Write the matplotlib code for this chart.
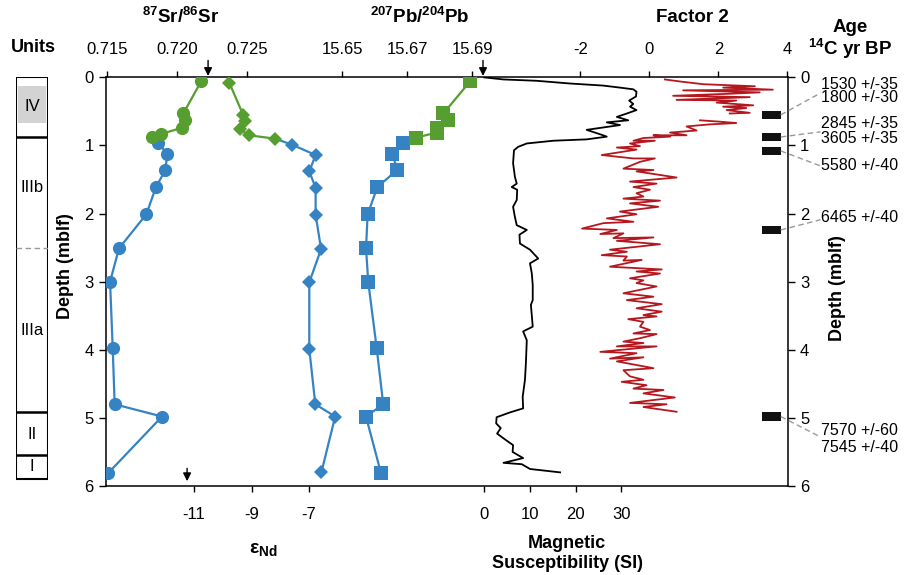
import numpy as np
import matplotlib
matplotlib.use('Agg')
import matplotlib.pyplot as plt
from matplotlib.patches import Rectangle

plt.rcParams['font.family'] = ['Liberation Sans', 'DejaVu Sans']
plt.rcParams['mathtext.default'] = 'regular'

# ---- data ----
# 87Sr/86Sr
sr_depth_g = [0.06, 0.53, 0.62, 0.74, 0.83, 0.88]
sr_g = [0.72174, 0.72047, 0.72059, 0.72038, 0.71888, 0.71821]
sr_depth_b = [0.96, 1.12, 1.36, 1.61, 2.01, 2.51, 3.00, 3.98, 4.80, 4.98, 5.81]
sr_b = [0.71864, 0.71933, 0.71919, 0.71852, 0.71783, 0.71588, 0.71524, 0.71543, 0.71557, 0.71895, 0.71511]

# eNd
nd_depth_g = [0.08, 0.55, 0.64, 0.76, 0.85, 0.90]
nd_g = [-9.77, -9.29, -9.23, -9.40, -9.09, -8.17]
nd_depth_b = [0.99, 1.14, 1.38, 1.62, 2.02, 2.52, 3.01, 3.99, 4.80, 4.98, 5.80]
nd_b = [-7.58, -6.77, -6.99, -6.77, -6.77, -6.58, -6.99, -6.99, -6.78, -6.09, -6.57]

# 207Pb/204Pb
pb_depth_g = [0.06, 0.53, 0.62, 0.74, 0.81, 0.885]
pb_g = [15.6893, 15.6811, 15.6824, 15.6790, 15.6790, 15.6727]
pb_depth_b = [0.97, 1.12, 1.36, 1.61, 2.01, 2.51, 3.01, 3.98, 4.80, 4.98, 5.81]
pb_b = [15.6688, 15.6654, 15.6669, 15.6608, 15.6578, 15.6573, 15.6580, 15.6606, 15.6626, 15.6573, 15.6619]

# magnetic susceptibility (SI)
ms_depth = [0.0, 0.03, 0.05, 0.09, 0.12, 0.15, 0.175, 0.21, 0.28, 0.34, 0.39, 0.43, 0.48, 0.53,
            0.58, 0.63, 0.66, 0.70, 0.77, 0.85, 0.87, 0.91, 0.93, 0.97, 1.02, 1.07, 1.26, 1.46,
            1.56, 1.61, 1.65, 1.80, 1.90, 2.05, 2.17, 2.24, 2.31, 2.44, 2.53, 2.66, 2.73, 2.88,
            3.05, 3.27, 3.34, 3.66, 3.73, 3.86, 4.20, 4.44, 4.69, 4.86, 4.92, 4.99, 5.08, 5.15,
            5.23, 5.30, 5.40, 5.50, 5.59, 5.66, 5.68, 5.75, 5.80]
ms_val = [0.0, 4.2, 11.5, 18.8, 26.0, 29.7, 32.6, 33.3, 33.2, 31.7, 32.6, 31.9, 33.3, 31.2,
          29.0, 31.5, 26.8, 29.7, 22.4, 26.0, 26.8, 22.4, 15.1, 9.3, 7.4, 6.5, 6.3, 6.7,
          7.1, 6.0, 7.2, 7.1, 6.3, 6.7, 7.1, 9.3, 7.7, 7.8, 10.0, 11.8, 10.0, 10.4,
          10.6, 10.6, 10.2, 10.6, 8.5, 9.3, 9.1, 8.9, 8.4, 8.5, 5.6, 2.7, 2.6, 3.6,
          2.8, 4.2, 6.3, 6.2, 8.5, 4.2, 8.2, 10.0, 16.6]

# Factor 2
f2_depth = [0.03, 0.06, 0.10, 0.11, 0.13, 0.15, 0.18, 0.19, 0.22, 0.24, 0.27, 0.29, 0.33, 0.34,
            0.37, 0.41, 0.43, 0.45, 0.48, 0.52, 0.53, np.nan,
            0.63, 0.65, 0.67, 0.69, 0.72, 0.78, 0.81, 0.85, 0.85, 0.87, 0.89, 0.93, 0.93, 0.97,
            1.01, 1.03, 1.06, 1.14, 1.19, 1.19, 1.24, 1.34, 1.36, 1.38, 1.47, 1.53, 1.56, 1.61,
            1.65, 1.70, 1.75, 1.78, 1.81, 1.85, 1.90, 1.97, 2.01, 2.07, 2.12, 2.14, 2.22, 2.24,
            2.30, 2.29, 2.36, 2.35, 2.40, 2.45, 2.53, 2.56, 2.61, 2.63, 2.69, 2.68, 2.78, 2.82,
            2.85, 2.88, 2.95, 2.98, 3.02, 3.07, 3.17, 3.22, 3.27, 3.33, 3.39, 3.44, 3.49, 3.51,
            3.55, 3.59, 3.66, 3.71, 3.76, 3.77, 3.83, 3.88, 3.90, 3.95, 3.95, 4.03, 4.05, 4.13,
            4.11, 4.17, 4.27, 4.30, 4.39, 4.44, 4.47, 4.52, 4.57, 4.59, 4.64, 4.70, 4.78, 4.80,
            4.84, 4.91]
f2_val = [0.45, 0.89, 1.56, 2.04, 3.06, 2.14, 3.58, 0.98, 3.20, 2.33, 0.69, 2.91, 0.79, 2.52,
          1.95, 3.01, 2.14, 2.81, 2.24, 2.91, 2.33, np.nan,
          1.47, 2.04, 2.52, 1.75, 1.08, 1.37, 0.60, 1.08, 0.12, 0.60, -0.17, -0.46, 0.16, -0.56,
          -0.27, -0.94, -0.37, -1.38, -0.46, 0.16, -0.27, -0.75, 0.12, -0.37, 0.79, -0.56, 0.21, -0.46,
          0.02, -0.37, -0.17, -0.75, 0.31, -0.56, 0.26, -0.85, -0.37, -1.23, -0.46, -1.33, -1.95, -0.94,
          -1.42, -0.75, -1.04, 0.12, -0.94, 0.31, -1.14, -0.65, -1.38, -0.65, -0.75, -0.22, -1.14, 0.36,
          -0.37, 0.31, -0.56, -0.17, -0.37, 0.21, -0.75, 0.12, -0.65, 0.36, -0.37, 0.36, -0.17, 0.21,
          -0.61, -0.17, -0.27, 0.02, -0.46, 0.21, -0.27, -0.75, -0.17, -0.94, 0.21, -1.42, -0.37, -1.14,
          -0.17, -0.94, 0.12, -0.75, -0.56, -0.17, -0.80, -0.08, -0.46, 0.41, -0.17, 0.74, -0.56, 0.50,
          -0.17, 0.79]

# radiocarbon samples
c14_depth = [0.55, 0.875, 1.08, 2.24, 4.98]
c14_label_depth = [0.23, 0.80, 1.30, 2.09, 5.28]
age_text = ['1530 +/-35', '1800 +/-30', '2845 +/-35', '3605 +/-35', '5580 +/-40',
            '6465 +/-40', '7570 +/-60', '7545 +/-40']
age_depth = [0.097, 0.30, 0.67, 0.89, 1.29, 2.05, 5.18, 5.43]

# lithologic units
unit_names = ['IV', 'IIIb', 'IIIa', 'II', 'I']
unit_mid = [0.43, 1.62, 3.72, 5.25, 5.72]

green = '#559e2f'
blue = '#3583c3'
red = '#b5171f'

W, H = 918, 575
fig = plt.figure(figsize=(W / 100, H / 100), dpi=100)
pos = [106 / W, 1 - 486 / H, (787.5 - 106) / W, (486 - 77.4) / H]

ax = fig.add_axes(pos)
ax.set_ylim(6, 0)
ax.set_xlim(0, 1)
ax.set_yticks(range(7))
ax.tick_params(axis='y', which='both', left=True, right=True, labelleft=True, labelright=True,
               direction='out', length=5, width=1, labelsize=12, pad=4)
ax.set_xticks([])
for s in ax.spines.values():
    s.set_linewidth(1.1)


def overlay(xlim):
    a = fig.add_axes(pos, sharey=ax)
    a.patch.set_visible(False)
    for s in a.spines.values():
        s.set_visible(False)
    a.set_xlim(*xlim)
    a.tick_params(axis='y', left=False, right=False, labelleft=False, labelright=False)
    return a


ax_sr = overlay((0.71495, 0.76362))
ax_pb = overlay((15.57729, 15.78700))
ax_f2 = overlay((-15.745, 4.005))
ax_nd = overlay((-14.061, 9.643))
ax_ms = overlay((-82.78, 66.35))

for a, ticks, labels in [(ax_sr, [0.715, 0.720, 0.725], ['0.715', '0.720', '0.725']),
                         (ax_pb, [15.65, 15.67, 15.69], ['15.65', '15.67', '15.69']),
                         (ax_f2, [-2, 0, 2, 4], ['-2', '0', '2', '4'])]:
    a.xaxis.tick_top()
    a.set_xticks(ticks)
    a.set_xticklabels(labels)
    a.tick_params(axis='x', direction='out', length=4, width=1, labelsize=12, pad=11)

for a, ticks in [(ax_nd, [-11, -9, -7]), (ax_ms, [0, 10, 20, 30])]:
    a.set_xticks(ticks)
    a.set_xticklabels([str(t) for t in ticks])
    a.tick_params(axis='x', direction='out', length=4, width=1, labelsize=12, pad=11)

# Sr
ax_sr.plot([sr_g[-1]] + sr_b, [sr_depth_g[-1]] + sr_depth_b, color=blue, lw=1.6, zorder=2)
ax_sr.plot(sr_b, sr_depth_b, 'o', color=blue, ms=9.5, mew=0, zorder=3)
ax_sr.plot(sr_g, sr_depth_g, '-o', color=green, lw=1.6, ms=9.5, mew=0, zorder=4)
# Nd
ax_nd.plot([nd_g[-1]] + nd_b, [nd_depth_g[-1]] + nd_depth_b, color=blue, lw=1.6, zorder=2)
ax_nd.plot(nd_b, nd_depth_b, 'D', color=blue, ms=7.5, mew=0, zorder=3)
ax_nd.plot(nd_g, nd_depth_g, '-D', color=green, lw=1.6, ms=7.5, mew=0, zorder=4)
# Pb
ax_pb.plot([pb_g[-1]] + pb_b, [pb_depth_g[-1]] + pb_depth_b, color=blue, lw=1.6, zorder=2)
ax_pb.plot(pb_b, pb_depth_b, 's', color=blue, ms=9.5, mew=0, zorder=3)
ax_pb.plot(pb_g, pb_depth_g, '-s', color=green, lw=1.6, ms=9.5, mew=0, zorder=4)

# magnetic susceptibility and factor 2
ax_ms.plot(ms_val, ms_depth, color='black', lw=1.3)
ax_f2.plot(f2_val, f2_depth, color=red, lw=1.3)

# radiocarbon sample boxes and leader lines
ax_f2.barh(c14_depth, width=0.53, left=3.28, height=0.125, color='#111111')
for d, ld in zip(c14_depth, c14_label_depth):
    ax_f2.plot([3.81, 4.96], [d, ld], color='#999999', lw=1, ls=(0, (4, 2.5)), clip_on=False)
for t, d in zip(age_text, age_depth):
    ax_f2.text(4.97, d, t, ha='left', va='center', fontsize=11.5, clip_on=False)

# arrows
arrow = dict(arrowstyle='-|>', color='black', lw=1, mutation_scale=12)
ax_sr.annotate('', xy=(0.72224, 0.02), xytext=(0.72224, -0.29), arrowprops=arrow,
               annotation_clip=False)
ax_pb.annotate('', xy=(15.6933, 0.02), xytext=(15.6933, -0.29), arrowprops=arrow,
               annotation_clip=False)
ax_nd.annotate('', xy=(-11.24, 5.97), xytext=(-11.24, 5.7), arrowprops=arrow,
               annotation_clip=False)

# lithology column
axl = fig.add_axes([16 / W, pos[1], 32 / W, pos[3]])
axl.set_xlim(0, 1)
axl.set_ylim(6, 0)
axl.axis('off')
axl.add_patch(Rectangle((0.06, 0.12), 0.88, 0.55, color='#d3d3d3', lw=0))
axl.add_patch(Rectangle((0, 0), 1, 5.89, fill=False, ec='black', lw=1.5))
for b in [0.87, 4.91, 5.55]:
    axl.plot([0, 1], [b, b], color='black', lw=1.8)
axl.plot([0, 1], [2.5, 2.5], color='#999999', lw=1, ls=(0, (4, 2.5)))
for n, m in zip(unit_names, unit_mid):
    axl.text(0.5, m, n, ha='center', va='center', fontsize=12)


def ftext(x, y, s, **kw):
    fig.text(x / W, 1 - y / H, s, ha='center', va='center', **kw)


ftext(181, 17, '$^{87}$Sr/$^{86}$Sr', fontsize=13.5, fontweight='bold')
ftext(420, 17, '$^{207}$Pb/$^{204}$Pb', fontsize=13.5, fontweight='bold')
ftext(692, 17, 'Factor 2', fontsize=13.5, fontweight='bold')
ftext(33, 48, 'Units', fontsize=13, fontweight='bold')
ftext(850, 28, 'Age', fontsize=13.5, fontweight='bold')
ftext(850, 49, '$^{14}$C yr BP', fontsize=13.5, fontweight='bold')
ftext(263, 550, 'ε$_{Nd}$', fontsize=14, fontweight='bold')
ftext(567, 543, 'Magnetic', fontsize=13, fontweight='bold')
ftext(567, 563, 'Susceptibility (SI)', fontsize=13, fontweight='bold')
ftext(66, 266, 'Depth (mblf)', fontsize=13, fontweight='bold', rotation=90)
ftext(838, 288, 'Depth (mblf)', fontsize=13, fontweight='bold', rotation=90)

fig.savefig('out.png', dpi=100)
